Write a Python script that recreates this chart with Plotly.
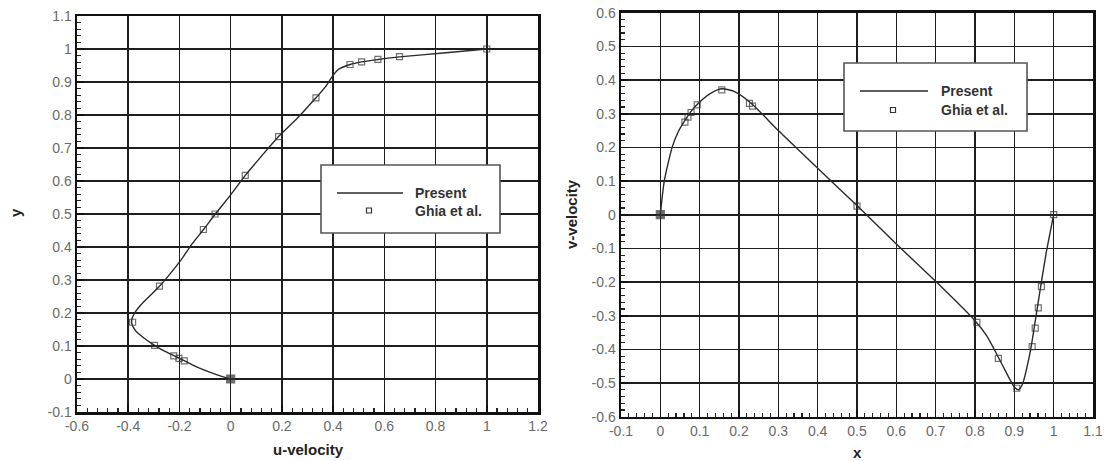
import plotly.graph_objects as go

# ---------------- data ----------------
# Left panel: u-velocity along vertical centreline
present_u = [0.0, -0.05, -0.10, -0.15, -0.18, -0.22, -0.26, -0.297, -0.34, -0.37, -0.385, -0.386,
             -0.375, -0.35, -0.318, -0.278, -0.235, -0.19, -0.150, -0.106, -0.06, 0.0, 0.057,
             0.12, 0.187, 0.26, 0.333, 0.37, 0.395, 0.42, 0.466, 0.511, 0.575, 0.659, 0.83, 1.0]
present_y = [0.0, 0.012, 0.026, 0.043, 0.055, 0.070, 0.085, 0.102, 0.125, 0.145, 0.165, 0.18,
             0.200, 0.225, 0.250, 0.281, 0.32, 0.365, 0.410, 0.453, 0.50, 0.558, 0.617,
             0.675, 0.735, 0.79, 0.852, 0.885, 0.915, 0.938, 0.953, 0.961, 0.968, 0.976, 0.988, 1.0]
ghia_u = [1.0, 0.65928, 0.57492, 0.51117, 0.46604, 0.33304, 0.18719, 0.05702, -0.06080,
          -0.10648, -0.27805, -0.38289, -0.29730, -0.22220, -0.20196, -0.18109, 0.0]
ghia_y = [1.0, 0.9766, 0.9688, 0.9609, 0.9531, 0.8516, 0.7344, 0.6172, 0.5000,
          0.4531, 0.2813, 0.1719, 0.1016, 0.0703, 0.0625, 0.0547, 0.0]

# Right panel: v-velocity along horizontal centreline
present_x = [0.0, 0.01, 0.03, 0.045, 0.0625, 0.08, 0.10, 0.13, 0.157, 0.19, 0.233, 0.30, 0.40,
             0.50, 0.60, 0.70, 0.80, 0.83, 0.86, 0.88, 0.90, 0.91, 0.92, 0.94, 0.96, 0.98, 1.0]
present_v = [0.0, 0.10, 0.20, 0.245, 0.28, 0.31, 0.335, 0.362, 0.374, 0.365, 0.329, 0.25, 0.138,
             0.027, -0.087, -0.198, -0.315, -0.36, -0.425, -0.47, -0.512, -0.52, -0.505, -0.41,
             -0.265, -0.12, 0.0]
ghia_x = [1.0, 0.9688, 0.9609, 0.9531, 0.9453, 0.9063, 0.8594, 0.8047, 0.5000,
          0.2344, 0.2266, 0.1563, 0.0938, 0.0781, 0.0703, 0.0625, 0.0]
ghia_v = [0.0, -0.21388, -0.27669, -0.33714, -0.39188, -0.51550, -0.42665, -0.31966, 0.02526,
          0.32235, 0.33075, 0.37095, 0.32627, 0.30353, 0.29012, 0.27485, 0.0]

left_xticks = [-0.6, -0.4, -0.2, 0, 0.2, 0.4, 0.6, 0.8, 1, 1.2]
left_yticks = [-0.1, 0, 0.1, 0.2, 0.3, 0.4, 0.5, 0.6, 0.7, 0.8, 0.9, 1, 1.1]
right_xticks = [-0.1, 0, 0.1, 0.2, 0.3, 0.4, 0.5, 0.6, 0.7, 0.8, 0.9, 1, 1.1]
right_yticks = [-0.6, -0.5, -0.4, -0.3, -0.2, -0.1, 0, 0.1, 0.2, 0.3, 0.4, 0.5, 0.6]

# ---------------- layout helpers ----------------
W, H = 1105, 461
def px(x):
    return x / W
def py(y):
    return 1 - y / H

LINE_COL = "#2a2a2a"
MARK_COL = "#333333"
TICK_FONT = dict(family="Liberation Sans, Arial, sans-serif", size=14, color="#6a6a6a")
TITLE_FONT = dict(family="Liberation Sans, Arial, sans-serif", size=15, color="#222222")

def ghia_symbols(n, filled_idx):
    s = ["square-open"] * n
    s[filled_idx] = "square"
    return s

fig = go.Figure()

fig.add_trace(go.Scatter(x=present_u, y=present_y, mode="lines", name="Present",
                         line=dict(color=LINE_COL, width=1.4, shape="spline", smoothing=0.6),
                         xaxis="x", yaxis="y", showlegend=False))
fig.add_trace(go.Scatter(x=ghia_u, y=ghia_y, mode="markers", name="Ghia et al.",
                         marker=dict(symbol=ghia_symbols(len(ghia_u), len(ghia_u) - 1),
                                     size=[6] * (len(ghia_u) - 1) + [8], color=MARK_COL,
                                     line=dict(color=MARK_COL, width=1.2)),
                         xaxis="x", yaxis="y", showlegend=False))

fig.add_trace(go.Scatter(x=present_x, y=present_v, mode="lines", name="Present",
                         line=dict(color=LINE_COL, width=1.4, shape="spline", smoothing=0.6),
                         xaxis="x2", yaxis="y2", showlegend=False))
fig.add_trace(go.Scatter(x=ghia_x, y=ghia_v, mode="markers", name="Ghia et al.",
                         marker=dict(symbol=ghia_symbols(len(ghia_x), len(ghia_x) - 1),
                                     size=[6] * (len(ghia_x) - 1) + [8], color=MARK_COL,
                                     line=dict(color=MARK_COL, width=1.2)),
                         xaxis="x2", yaxis="y2", showlegend=False))

def axis(domain, rng, ticks, minor_dtick, anchor):
    return dict(domain=domain, range=rng, tickmode="array", tickvals=ticks,
                ticktext=[f"{t:g}" for t in ticks], showgrid=True, gridcolor="#1e1e1e",
                gridwidth=1.6, zeroline=False, showline=True, linecolor="#111111", linewidth=2.5,
                mirror=True, ticks="inside", ticklen=7, tickwidth=1.6, tickcolor="#111111",
                minor=dict(ticks="inside", ticklen=4, tickwidth=1.2, tickcolor="#222222",
                           dtick=minor_dtick, tick0=rng[0], showgrid=False),
                tickfont=TICK_FONT, anchor=anchor, automargin=False, fixedrange=True)

lx = [px(77), px(538)]
ly = [py(412), py(16)]
rx = [px(621), px(1093)]
ry = [py(416.7), py(12.7)]

layout = dict(
    width=W, height=H, margin=dict(l=0, r=0, t=0, b=0),
    paper_bgcolor="white", plot_bgcolor="white", showlegend=False,
    xaxis=axis(lx, [-0.6, 1.2], left_xticks, 0.04, "y"),
    yaxis=axis(ly, [-0.1, 1.1], left_yticks, 0.02, "x"),
    xaxis2=axis(rx, [-0.1, 1.1], right_xticks, 0.02, "y2"),
    yaxis2=axis(ry, [-0.6, 0.6], right_yticks, 0.02, "x2"),
)
fig.update_layout(**layout)

# axis titles
titles = [
    dict(text="<b>u-velocity</b>", x=px(308), y=py(449), textangle=0),
    dict(text="<b>y</b>", x=px(15), y=py(213), textangle=-90),
    dict(text="<b>x</b>", x=px(857), y=py(452), textangle=0),
    dict(text="<b>v-velocity</b>", x=px(571), y=py(214), textangle=-90),
]
for t in titles:
    fig.add_annotation(text=t["text"], x=t["x"], y=t["y"], xref="paper", yref="paper",
                       showarrow=False, textangle=t["textangle"], font=TITLE_FONT,
                       xanchor="center", yanchor="middle")

# manual legends (box, line sample, marker sample, labels)
LEG_FONT = dict(family="Liberation Sans, Arial, sans-serif", size=14, color="#333333")
def add_legend(box, line_x, line_y, mark_xy, text_x, text_y1, text_y2):
    fig.add_shape(type="rect", xref="paper", yref="paper",
                  x0=px(box[0]), x1=px(box[1]), y0=py(box[3]), y1=py(box[2]),
                  line=dict(color="#555555", width=1.6), fillcolor="white", layer="above")
    fig.add_shape(type="line", xref="paper", yref="paper",
                  x0=px(line_x[0]), x1=px(line_x[1]), y0=py(line_y), y1=py(line_y),
                  line=dict(color=LINE_COL, width=1.4), layer="above")
    mx, my = mark_xy
    fig.add_shape(type="rect", xref="paper", yref="paper",
                  x0=px(mx - 2.5), x1=px(mx + 2.5), y0=py(my + 2.5), y1=py(my - 2.5),
                  line=dict(color=MARK_COL, width=1.2), fillcolor="white", layer="above")
    for txt, yy in (("Present", text_y1), ("Ghia et al.", text_y2)):
        fig.add_annotation(text=f"<b>{txt}</b>", x=px(text_x), y=py(yy), xref="paper",
                           yref="paper", showarrow=False, font=LEG_FONT,
                           xanchor="left", yanchor="middle")

add_legend((321, 500, 165, 233), (337, 403), 193, (369, 210.5), 413, 193, 211)
add_legend((844, 1027, 63, 131), (860, 928), 91, (893, 110), 939, 91, 110)

# remove the default 8px page margin so the figure fills the window exactly
fig.write_html("out.html", config={"displayModeBar": False, "staticPlot": True},
               post_script="document.body.style.margin='0px';")
